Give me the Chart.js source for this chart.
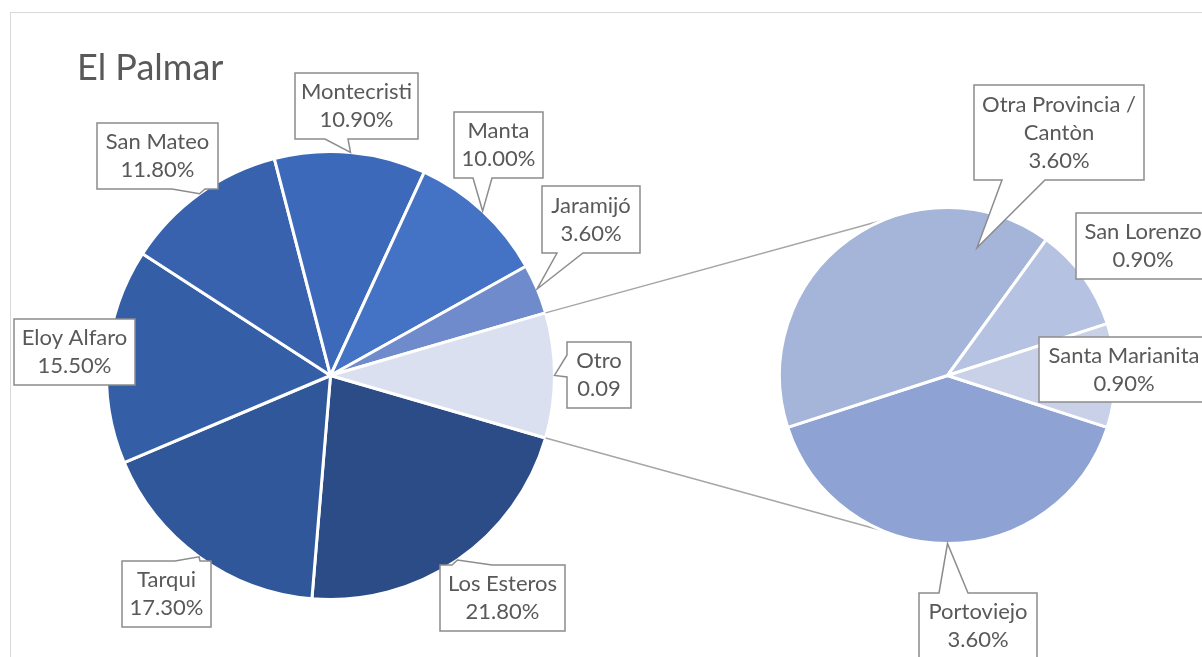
<!DOCTYPE html>
<html>
<head>
<meta charset="utf-8">
<script src="https://cdn.jsdelivr.net/npm/chart.js@4.4.1/dist/chart.umd.min.js"></script>
<style>
  body { margin: 0; background: #fff; }
  #wrap { position: relative; width: 1202px; height: 657px; overflow: hidden; }
  #frame { position: absolute; left: 10px; top: 12px; width: 1400px; height: 900px; border: 1px solid #d9d9d9; }
  canvas { position: absolute; left: 0; top: 0; }
</style>
</head>
<body>
<div id="wrap">
  <div id="frame"></div>
  <canvas id="mainPie" width="1202" height="657"></canvas>
  <canvas id="subPie" width="1202" height="657"></canvas>
</div>
<script>
const chartTitle = 'El Palmar';
const otherName = 'Otro';

// main pie, clockwise from just below 3 o'clock
const mainLabels = [['Los Esteros'], ['Tarqui'], ['Eloy Alfaro'], ['San Mateo'], ['Montecristi'], ['Manta'], ['Jaramijó'], ['Otro']];
const mainValues = [21.8, 17.3, 15.5, 11.8, 10.9, 10.0, 3.6, 9.0];

// breakdown of "Otro"
const subLabels = [['Portoviejo'], ['Otra Provincia /', 'Cantòn'], ['San Lorenzo'], ['Santa Marianita']];
const subValues = [3.6, 3.6, 0.9, 0.9];

const mainColors = ['#2c4c88', '#31579b', '#345ea6', '#3862ae', '#3c69b9', '#4472c4', '#6f8bcc', '#dae0ef'];
const subColors = ['#8ea3d3', '#a5b4d9', '#b6c2e1', '#c9d1e9'];

// callout boxes (layout only)
const mainBoxes = [
  { x: 440, y: 565, w: 125, h: 66, wedge: { side: 'top', from: 452, to: 492 } },
  { x: 122, y: 561, w: 89, h: 66, wedge: { side: 'top', from: 175, to: 200 } },
  { x: 14, y: 319, w: 121, h: 66 },
  { x: 97, y: 123, w: 121, h: 66, wedge: { side: 'bottom', from: 172, to: 205 } },
  { x: 295, y: 73, w: 123, h: 66, wedge: { side: 'bottom', from: 325, to: 348 } },
  { x: 454, y: 112, w: 89, h: 66, wedge: { side: 'bottom', from: 473, to: 492 } },
  { x: 542, y: 186, w: 98, h: 67, wedge: { side: 'bottom', from: 557, to: 583 } },
  { x: 567, y: 342, w: 64, h: 66, wedge: { side: 'left', from: 355, to: 377 } }
];
const subBoxes = [
  { x: 919, y: 593, w: 118, h: 66, wedge: { side: 'top', from: 939, to: 968 } },
  { x: 974, y: 85, w: 170, h: 95, wedge: { side: 'bottom', from: 1002, to: 1045 }, tipShift: 49, tipR: 0.78 },
  { x: 1076, y: 213, w: 134, h: 66 },
  { x: 1039, y: 337, w: 170, h: 65 }
];

const textColor = '#595959';
const labelFont = '22px Lato';

function fmt(name, v) {
  return name === otherName ? (v / 100).toFixed(2) : v.toFixed(2) + '%';
}

function calloutPath(ctx, b, tip) {
  const x0 = b.x, y0 = b.y, x1 = b.x + b.w, y1 = b.y + b.h;
  const w = b.wedge;
  ctx.beginPath();
  ctx.moveTo(x0, y0);
  if (w && w.side === 'top') { ctx.lineTo(w.from, y0); ctx.lineTo(tip.x, tip.y); ctx.lineTo(w.to, y0); }
  ctx.lineTo(x1, y0);
  if (w && w.side === 'right') { ctx.lineTo(x1, w.from); ctx.lineTo(tip.x, tip.y); ctx.lineTo(x1, w.to); }
  ctx.lineTo(x1, y1);
  if (w && w.side === 'bottom') { ctx.lineTo(w.to, y1); ctx.lineTo(tip.x, tip.y); ctx.lineTo(w.from, y1); }
  ctx.lineTo(x0, y1);
  if (w && w.side === 'left') { ctx.lineTo(x0, w.to); ctx.lineTo(tip.x, tip.y); ctx.lineTo(x0, w.from); }
  ctx.closePath();
}

function calloutPlugin(id, names, boxes) {
  return {
    id: id,
    afterDatasetsDraw(chart) {
      const ctx = chart.ctx;
      const values = chart.data.datasets[0].data;
      ctx.save();
      chart.getDatasetMeta(0).data.forEach((arc, i) => {
        const b = boxes[i];
        let ang = (arc.startAngle + arc.endAngle) / 2;
        if (b.tipShift) ang += b.tipShift * Math.PI / 180;
        const r = arc.outerRadius * (b.tipR || 1);
        const tip = { x: arc.x + Math.cos(ang) * r, y: arc.y + Math.sin(ang) * r };
        calloutPath(ctx, b, tip);
        ctx.fillStyle = '#ffffff';
        ctx.fill();
        ctx.strokeStyle = '#8c8c8c';
        ctx.lineWidth = 1.5;
        ctx.stroke();

        const lines = names[i].concat([fmt(names[i][0], values[i])]);
        ctx.font = labelFont;
        ctx.fillStyle = textColor;
        ctx.textAlign = 'center';
        ctx.textBaseline = 'middle';
        const cx = b.x + b.w / 2, cy = b.y + b.h / 2;
        const step = 28;
        lines.forEach((t, k) => {
          ctx.fillText(t, cx, cy + (k - (lines.length - 1) / 2) * step);
        });
      });
      ctx.restore();
    }
  };
}

const titlePlugin = {
  id: 'titleText',
  afterDraw(chart) {
    const ctx = chart.ctx;
    ctx.save();
    ctx.font = '36px Lato';
    ctx.fillStyle = textColor;
    ctx.textAlign = 'left';
    ctx.textBaseline = 'alphabetic';
    ctx.fillText(chartTitle, 77, 80);
    ctx.restore();
  }
};

const pieOptions = (rotation, padding) => ({
  responsive: false,
  animation: false,
  rotation: rotation,
  layout: { padding: padding },
  plugins: { legend: { display: false }, tooltip: { enabled: false } }
});

const mainChart = new Chart(document.getElementById('mainPie').getContext('2d'), {
  type: 'pie',
  data: {
    labels: mainLabels.map(l => l.join(' ')),
    datasets: [{ data: mainValues, backgroundColor: mainColors, borderColor: '#ffffff', borderWidth: 3 }]
  },
  options: pieOptions(106.2, { left: 105, right: 646, top: 150, bottom: 56 }),
  plugins: [calloutPlugin('mainCallouts', mainLabels, mainBoxes), titlePlugin]
});

// lines joining "Otro" to the second pie
const connectorPlugin = {
  id: 'connectors',
  beforeDatasetsDraw(chart) {
    const otro = mainChart.getDatasetMeta(0).data[mainLabels.length - 1];
    const sub = chart.getDatasetMeta(0).data[0];
    const ctx = chart.ctx;
    const spread = 112 * Math.PI / 180;
    const pts = [
      [otro.startAngle, -spread],
      [otro.endAngle, spread]
    ];
    ctx.save();
    ctx.strokeStyle = '#a6a6a6';
    ctx.lineWidth = 1.5;
    pts.forEach(p => {
      ctx.beginPath();
      ctx.moveTo(otro.x + Math.cos(p[0]) * otro.outerRadius, otro.y + Math.sin(p[0]) * otro.outerRadius);
      ctx.lineTo(sub.x + Math.cos(p[1]) * sub.outerRadius, sub.y + Math.sin(p[1]) * sub.outerRadius);
      ctx.stroke();
    });
    ctx.restore();
  }
};

new Chart(document.getElementById('subPie').getContext('2d'), {
  type: 'pie',
  data: {
    labels: subLabels.map(l => l.join(' ')),
    datasets: [{ data: subValues, backgroundColor: subColors, borderColor: '#ffffff', borderWidth: 3 }]
  },
  options: pieOptions(108, { left: 778, right: 85, top: 206, bottom: 112 }),
  plugins: [connectorPlugin, calloutPlugin('subCallouts', subLabels, subBoxes)]
});
</script>
</body>
</html>
